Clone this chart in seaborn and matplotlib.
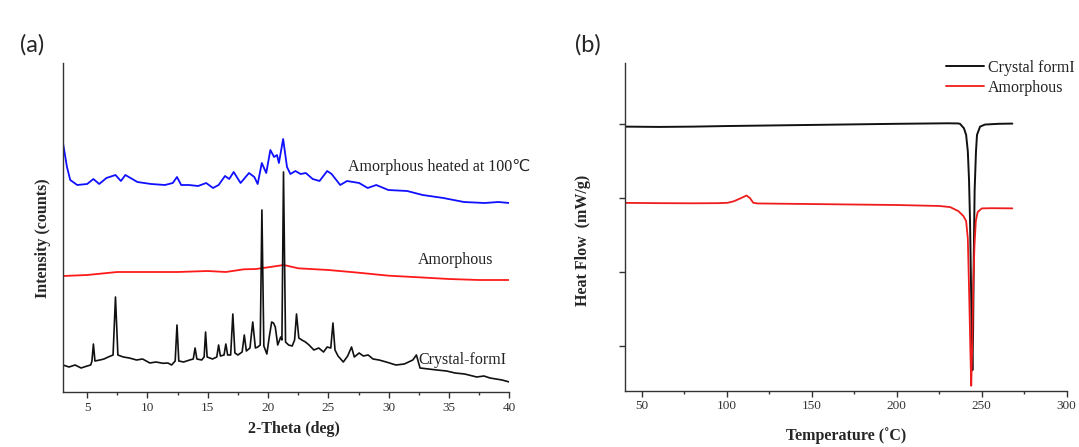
import numpy as np
import pandas as pd
import matplotlib
matplotlib.use("Agg")
import matplotlib.pyplot as plt
from matplotlib.ticker import MultipleLocator, NullFormatter
import seaborn as sns

# ---------------- data: panel (a) XRD ----------------
crystal_2theta = [3.0, 3.5, 4.0, 4.5, 5.0, 5.3, 5.4, 5.52, 5.65, 6.06, 6.4, 6.75, 7.15, 7.35, 7.55, 8.0, 8.5,
                  9.1, 9.6, 10.2, 10.7, 11.3, 11.7, 12.0, 12.3, 12.45, 12.6, 13.0, 13.5, 13.8, 13.95, 14.1,
                  14.5, 14.7, 14.82, 14.95, 15.4, 15.75, 15.9, 16.05, 16.35, 16.5, 16.65, 16.9, 17.08, 17.25,
                  17.5, 17.85, 18.03, 18.2, 18.5, 18.73, 18.95, 19.15, 19.35, 19.49, 19.65, 19.9, 20.1, 20.3,
                  20.45, 20.6, 20.8, 21.05, 21.15, 21.28, 21.45, 21.7, 22.0, 22.2, 22.36, 22.55, 22.8, 23.1,
                  23.4, 23.8, 24.2, 24.6, 24.9, 25.2, 25.38, 25.55, 25.8, 26.24, 26.6, 26.92, 27.15, 27.55,
                  27.9, 28.3, 28.7, 29.2, 29.8, 30.6, 31.3, 32.0, 32.3, 32.6, 33.3, 34.0, 34.8, 35.5, 36.3,
                  37.3, 37.9, 38.4, 38.9, 39.4, 40.0]
crystal_int = [27, 25, 27, 24, 26, 27, 31, 48, 31, 32, 33, 35, 37, 95, 37, 35, 34,
               32, 33, 29, 30, 28.7, 29, 27, 31, 67, 31, 30, 32, 33, 44, 33,
               32, 35, 60, 35, 33, 35, 47, 36, 37, 48, 37, 37, 78, 39,
               37, 40, 57, 41, 44, 70, 44, 45, 47, 182, 46, 38, 55, 70,
               69, 65, 47, 55, 52, 220, 50, 47, 46, 52, 78, 54, 52, 50,
               47, 42, 44, 40, 45, 44, 69, 42, 36, 30, 36, 45, 35, 39,
               36, 37, 33, 32, 30, 27, 28, 32, 37, 24, 23, 22, 21, 19, 18,
               15, 16, 14, 13, 12, 10]

amorph_2theta = [3.0, 5.0, 7.5, 10.0, 12.5, 15.0, 16.5, 18.0, 19.0, 20.0, 21.3, 22.5, 23.5, 25.0, 27.5,
                 30.0, 32.5, 35.0, 37.5, 40.0]
amorph_int = [116, 117, 120, 120, 120, 121, 120, 122.7, 123, 124.7, 127, 123.7, 123, 122, 119.3,
              116.3, 114.7, 113, 112, 112]

heated_2theta = [3.0, 3.33, 3.6, 4.18, 5.0, 5.52, 6.0, 6.6, 7.35, 7.8, 8.17, 9.17, 10.3, 11.45, 12.1, 12.45,
                 12.8, 13.44, 14.2, 14.87, 15.44, 15.9, 16.43, 16.78, 17.15, 17.72, 18.42, 18.86, 19.14,
                 19.48, 19.85, 20.19, 20.5, 20.74, 20.9, 21.25, 21.57, 21.85, 22.27, 22.7, 23.13, 23.7,
                 24.27, 24.9, 25.27, 25.98, 26.55, 27.55, 28.26, 28.97, 29.97, 31.53, 32.82, 34.53,
                 36.24, 37.95, 39.1, 40.0]
heated_int = [249, 225, 212, 207, 208, 213, 208, 214, 217, 211, 217, 210, 208, 207, 209, 215,
              207, 207, 206, 209, 204, 207, 216, 213, 220, 209, 219, 215, 208,
              229, 219, 242, 235, 237, 229, 253, 225, 218, 221, 218, 219, 213,
              211, 221, 218, 207, 211, 209, 204, 207, 202, 201, 197, 194,
              190, 189, 190, 189]

# ---------------- data: panel (b) DSC ----------------
crystal_T = [40, 60, 80, 100, 150, 200, 230, 236, 237.2, 239.5, 240.8, 241.8, 242.5, 243.1, 243.7,
             244.1, 244.5, 244.9, 245.3, 245.8, 246.6, 247.2, 249, 251.9, 260, 268]
crystal_hf = [3.962, 3.958, 3.962, 3.97, 3.985, 4.0, 4.007, 4.005, 4.0, 3.94, 3.851, 3.627, 3.25, 2.689, 1.8,
              1.1, 0.678, 1.2, 2.2, 3.1, 3.627, 3.851, 3.962, 3.99, 4.0, 4.003]

amorph_T = [40, 60, 80, 95, 100.4, 104, 108, 111.5, 113.5, 115.5, 118, 150, 200, 225, 231.4, 236.2,
            239.2, 240.8, 241.8, 242.6, 243.3, 243.8, 244.4, 245.0, 245.7, 246.5, 247.6, 250, 255, 268]
amorph_hf = [2.934, 2.93, 2.928, 2.93, 2.935, 2.955, 2.995, 3.033, 3.0, 2.935, 2.926, 2.918, 2.905, 2.892,
             2.877, 2.823, 2.756, 2.689, 2.45, 1.7, 0.95, 0.468, 1.0, 1.8, 2.35, 2.689, 2.81, 2.859, 2.862, 2.86]

xrd_labels = ["Amorphous heated at 100℃", "Amorphous", "Crystal-formI"]
dsc_labels = ["Crystal formI", "Amorphous"]
dsc_xlabel = "Temperature (˚C)"

# ---------------- styling ----------------
sns.set_style("ticks")
serif = ["Liberation Serif", "DejaVu Serif", "DejaVu Sans"]
plt.rcParams["font.family"] = serif
plt.rcParams["axes.edgecolor"] = "#333333"
plt.rcParams["axes.linewidth"] = 1.0
plt.rcParams["xtick.color"] = "#333333"
plt.rcParams["ytick.color"] = "#333333"
plt.rcParams["xtick.labelcolor"] = "#333333"

W, H = 1079, 447
fig = plt.figure(figsize=(W / 100, H / 100), dpi=100)
fig.patch.set_facecolor("white")

def fx(px):
    return px / W

def fy(py):
    return 1 - py / H

axA = fig.add_axes([fx(63), fy(392), (509.3 - 63) / W, (392 - 63) / H])
axB = fig.add_axes([fx(625), fy(390.7), (1066.7 - 625) / W, (390.7 - 63) / H])

dfc = pd.DataFrame({"x": crystal_2theta, "y": crystal_int})
dfa = pd.DataFrame({"x": amorph_2theta, "y": amorph_int})
dfh = pd.DataFrame({"x": heated_2theta, "y": heated_int})
sns.lineplot(data=dfh, x="x", y="y", ax=axA, color="#1010ff", lw=1.3, sort=False, estimator=None)
sns.lineplot(data=dfa, x="x", y="y", ax=axA, color="#ff1a1a", lw=1.3, sort=False, estimator=None)
sns.lineplot(data=dfc, x="x", y="y", ax=axA, color="#111111", lw=1.2, sort=False, estimator=None)

axA.set_xlim(3, 40)
axA.set_ylim(0, 329)
axA.xaxis.set_major_locator(MultipleLocator(5))
axA.xaxis.set_minor_locator(MultipleLocator(2.5))
axA.set_yticks([])
axA.tick_params(axis="x", which="major", direction="out", length=4, width=1.0, labelsize=9.5, pad=3.0)
axA.tick_params(axis="x", which="minor", direction="out", length=2.5, width=1.0)
sns.despine(ax=axA, top=True, right=True)
axA.set_xlabel("2-Theta (deg)", fontsize=11.5, fontweight="bold", va="top")
axA.xaxis.set_label_coords(0.517, -0.088)
axA.set_ylabel("Intensity (counts)", fontsize=11.5, fontweight="bold")
axA.yaxis.set_label_coords(-0.026, 0.467)

txtkw = dict(fontsize=11.5, color="#222222", va="center", ha="left", clip_on=False)
axA.text(26.6, 225, xrd_labels[0], family=["Liberation Serif", "DejaVu Sans"], **txtkw)
axA.text(32.4, 132, xrd_labels[1], **txtkw)
axA.text(32.5, 32, xrd_labels[2], **txtkw)

dbc = pd.DataFrame({"x": crystal_T, "y": crystal_hf})
dba = pd.DataFrame({"x": amorph_T, "y": amorph_hf})
sns.lineplot(data=dbc, x="x", y="y", ax=axB, color="#111111", lw=1.4, sort=False, estimator=None,
             label=dsc_labels[0])
sns.lineplot(data=dba, x="x", y="y", ax=axB, color="#ee1c1c", lw=1.3, sort=False, estimator=None,
             label=dsc_labels[1])
axB.set_xlim(40, 300)
axB.set_ylim(0.401, 4.82)
axB.xaxis.set_major_locator(MultipleLocator(50))
axB.xaxis.set_minor_locator(MultipleLocator(25))
axB.set_yticks([1, 2, 3, 4])
axB.yaxis.set_major_formatter(NullFormatter())
axB.tick_params(axis="x", which="major", direction="out", length=4, width=1.0, labelsize=9.5, pad=3.0)
axB.tick_params(axis="x", which="minor", direction="out", length=2.5, width=1.0)
axB.tick_params(axis="y", which="major", direction="out", length=4, width=1.0)
sns.despine(ax=axB, top=True, right=True)
axB.set_xlabel(dsc_xlabel, fontsize=11.5, fontweight="bold", va="top")
axB.xaxis.set_label_coords(0.5, -0.112)
axB.set_ylabel("Heat Flow  (mW/g)", fontsize=11.5, fontweight="bold")
axB.yaxis.set_label_coords(-0.076, 0.46)

leg = axB.legend(loc="upper left", bbox_to_anchor=(fx(946), fy(60)), bbox_transform=fig.transFigure,
                 frameon=False, fontsize=11.5, handlelength=2.4, handletextpad=0.25, labelspacing=0.25,
                 borderpad=0, borderaxespad=0)
for t in leg.get_texts():
    t.set_color("#222222")

fig.text(fx(20), fy(45), "(a)", family=["Lato", "DejaVu Sans"], fontsize=17, va="center", ha="left")
fig.text(fx(575), fy(45), "(b)", family=["Lato", "DejaVu Sans"], fontsize=17, va="center", ha="left")

fig.savefig("out.png", dpi=100, facecolor="white")
